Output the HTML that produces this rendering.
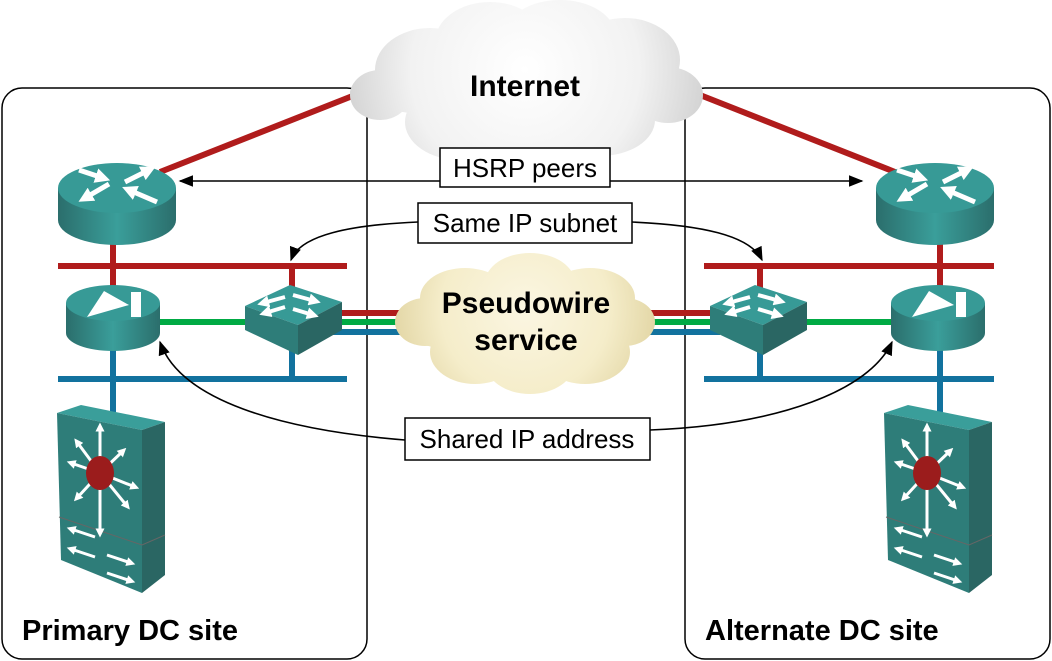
<!DOCTYPE html>
<html><head><meta charset="utf-8"><style>
html,body{margin:0;padding:0;background:#fff}
svg{display:block}
text{font-family:"Liberation Sans",Arial,sans-serif}
</style></head><body>
<svg width="1052" height="661" viewBox="0 0 1052 661" xmlns="http://www.w3.org/2000/svg">
<defs>
<linearGradient id="cyl" x1="0" x2="1" y1="0" y2="0">
<stop offset="0" stop-color="#2b6e6c"/><stop offset="0.5" stop-color="#3a9e9a"/><stop offset="1" stop-color="#2b6e6c"/>
</linearGradient>
<radialGradient id="wc" gradientUnits="userSpaceOnUse" cx="525" cy="70" r="190"><stop offset="0" stop-color="#ffffff"/><stop offset="0.6" stop-color="#f2f2f2"/><stop offset="1" stop-color="#cfcfcf"/></radialGradient>
<radialGradient id="yc" gradientUnits="userSpaceOnUse" cx="525" cy="310" r="140"><stop offset="0" stop-color="#fbf6e2"/><stop offset="0.6" stop-color="#f5edca"/><stop offset="1" stop-color="#e0d3a0"/></radialGradient>
<marker id="ah" viewBox="0 0 10 10" refX="9" refY="5" markerWidth="9" markerHeight="9" orient="auto-start-reverse"><path d="M0,1 L10,5 L0,9 z" fill="#000"/></marker>
<marker id="wa" viewBox="0 0 10 10" refX="5" refY="5" markerWidth="3" markerHeight="3" orient="auto"><path d="M0,0 L10,5 L0,10 z" fill="#fff"/></marker>
<g id="router">
<path d="M-59,0 L-59,32 A59,25 0 0 0 59,32 L59,0 Z" fill="url(#cyl)"/>
<ellipse cx="0" cy="0" rx="59" ry="25" fill="#379a96"/>
<g stroke="#fff" stroke-width="5" marker-end="url(#wa)">
<line x1="-38" y1="-18" x2="-14" y2="-10"/>
<line x1="-8" y1="-4" x2="-32" y2="10"/>
<line x1="8" y1="-6" x2="32" y2="-18"/>
<line x1="40" y1="14" x2="12" y2="2"/>
</g>
</g>
<g id="lb">
<path d="M-47,0 L-47,30 A47,18 0 0 0 47,30 L47,0 Z" fill="url(#cyl)"/>
<ellipse cx="0" cy="0" rx="47" ry="18" fill="#379a96"/>
<path d="M-26,14 L-9,-12 L16,2 Z" fill="#fff"/>
<rect x="18" y="-11" width="10" height="25" fill="#fff"/>
</g>
<g id="sw">
<path d="M0,21 L45,0 L97,17 L53,40 Z" fill="#379a96"/>
<path d="M0,21 L53,40 L53,70 L0,45 Z" fill="#2e7d79"/>
<path d="M53,40 L97,17 L97,45 L53,70 Z" fill="#2a6663"/>
<g stroke="#fff" stroke-width="4" marker-end="url(#wa)">
<line x1="40" y1="12" x2="18" y2="18"/><line x1="48" y1="10" x2="70" y2="16"/>
<line x1="40" y1="22" x2="20" y2="28"/><line x1="48" y1="24" x2="68" y2="30"/>
</g>
</g>
<g id="ch">
<path d="M0,8 L24,0 L108,17 L85,25 Z" fill="#3a9e9a"/>
<path d="M0,8 L85,25 L85,188 L4,155 Z" fill="#2e7d79"/>
<path d="M85,25 L108,17 L108,170 L85,188 Z" fill="#2a6663"/>
<path d="M2,112 L85,140 L108,130" stroke="#666" stroke-width="1" fill="none"/>
<g stroke="#fff" stroke-width="3" marker-end="url(#wa)">
<line x1="43" y1="68" x2="43" y2="22"/><line x1="43" y1="68" x2="43" y2="128"/>
<line x1="43" y1="68" x2="14" y2="58"/><line x1="43" y1="68" x2="78" y2="82"/>
<line x1="43" y1="68" x2="20" y2="37"/><line x1="43" y1="68" x2="70" y2="101"/>
<line x1="43" y1="68" x2="66" y2="46"/><line x1="43" y1="68" x2="20" y2="93"/>
<line x1="38" y1="132" x2="14" y2="124"/><line x1="38" y1="152" x2="14" y2="144"/>
<line x1="50" y1="150" x2="74" y2="158"/><line x1="50" y1="168" x2="74" y2="176"/>
</g>
<ellipse cx="43" cy="68" rx="14" ry="17" fill="#9b1c1c"/>
</g>
</defs>

<rect x="2" y="88" width="365" height="571" rx="20" fill="none" stroke="#000" stroke-width="1.5"/>
<rect x="685" y="88" width="365" height="571" rx="20" fill="none" stroke="#000" stroke-width="1.5"/>

<line x1="160" y1="172" x2="355" y2="95" stroke="#b01c1c" stroke-width="6"/>
<line x1="700" y1="95" x2="895" y2="172" stroke="#b01c1c" stroke-width="6"/>

<g stroke-width="6">
<line x1="58" y1="266" x2="347" y2="266" stroke="#b01c1c"/>
<line x1="113" y1="230" x2="113" y2="300" stroke="#b01c1c"/>
<line x1="292" y1="266" x2="292" y2="295" stroke="#b01c1c"/>
<line x1="58" y1="379" x2="347" y2="379" stroke="#12729e"/>
<line x1="113" y1="340" x2="113" y2="412" stroke="#12729e"/>
<line x1="292" y1="345" x2="292" y2="379" stroke="#12729e"/>
<line x1="155" y1="322" x2="250" y2="322" stroke="#00aa44"/>
<line x1="330" y1="313" x2="410" y2="313" stroke="#b01c1c"/>
<line x1="330" y1="322" x2="410" y2="322" stroke="#00aa44"/>
<line x1="330" y1="332" x2="410" y2="332" stroke="#12729e"/>
<line x1="704" y1="266" x2="994" y2="266" stroke="#b01c1c"/>
<line x1="940" y1="230" x2="940" y2="300" stroke="#b01c1c"/>
<line x1="760" y1="266" x2="760" y2="295" stroke="#b01c1c"/>
<line x1="704" y1="379" x2="994" y2="379" stroke="#12729e"/>
<line x1="940" y1="340" x2="940" y2="412" stroke="#12729e"/>
<line x1="760" y1="345" x2="760" y2="379" stroke="#12729e"/>
<line x1="800" y1="322" x2="900" y2="322" stroke="#00aa44"/>
<line x1="640" y1="313" x2="720" y2="313" stroke="#b01c1c"/>
<line x1="640" y1="322" x2="720" y2="322" stroke="#00aa44"/>
<line x1="640" y1="332" x2="720" y2="332" stroke="#12729e"/>
</g>

<g fill="url(#wc)">
<ellipse cx="525" cy="92" rx="175" ry="28"/>
<ellipse cx="430" cy="70" rx="55" ry="42"/><ellipse cx="490" cy="42" rx="55" ry="40"/><ellipse cx="560" cy="35" rx="55" ry="35"/>
<ellipse cx="625" cy="60" rx="55" ry="42"/><ellipse cx="668" cy="95" rx="35" ry="28"/><ellipse cx="460" cy="122" rx="55" ry="38"/>
<ellipse cx="535" cy="128" rx="55" ry="38"/><ellipse cx="600" cy="120" rx="55" ry="36"/><ellipse cx="380" cy="95" rx="30" ry="25"/>
</g>
<g fill="url(#yc)">
<ellipse cx="525" cy="325" rx="128" ry="32"/>
<ellipse cx="465" cy="298" rx="45" ry="30"/><ellipse cx="530" cy="283" rx="45" ry="30"/><ellipse cx="590" cy="298" rx="45" ry="30"/>
<ellipse cx="475" cy="352" rx="45" ry="32"/><ellipse cx="530" cy="362" rx="45" ry="32"/><ellipse cx="585" cy="352" rx="45" ry="32"/>
<ellipse cx="425" cy="322" rx="30" ry="24"/><ellipse cx="625" cy="322" rx="30" ry="24"/>
</g>
<text x="525" y="96" font-size="30" font-weight="bold" text-anchor="middle">Internet</text>
<text x="526" y="313" font-size="30" font-weight="bold" text-anchor="middle">Pseudowire</text>
<text x="526" y="350" font-size="30" font-weight="bold" text-anchor="middle">service</text>

<use href="#router" x="117" y="188"/>
<use href="#router" x="935" y="188"/>
<use href="#lb" x="113" y="303"/>
<use href="#lb" x="938" y="303"/>
<use href="#sw" x="245" y="285"/>
<use href="#sw" x="710" y="285"/>
<use href="#ch" x="57" y="405"/>
<use href="#ch" x="884" y="405"/>

<g fill="none" stroke="#000" stroke-width="1.6">
<line x1="180" y1="181" x2="862" y2="181" marker-start="url(#ah)" marker-end="url(#ah)"/>
<path d="M418,222 C350,225 300,235 291,260" marker-end="url(#ah)"/>
<path d="M632,222 C700,225 750,235 762,260" marker-end="url(#ah)"/>
<path d="M405,440 C280,430 180,400 160,342" marker-end="url(#ah)"/>
<path d="M650,430 C780,425 870,390 892,342" marker-end="url(#ah)"/>
</g>

<g font-size="26" text-anchor="middle">
<rect x="440" y="148" width="170" height="39" fill="#fff" stroke="#000" stroke-width="1.5"/>
<text x="525" y="177">HSRP peers</text>
<rect x="418" y="203" width="214" height="40" fill="#fff" stroke="#000" stroke-width="1.5"/>
<text x="525" y="232">Same IP subnet</text>
<rect x="405" y="418" width="245" height="42" fill="#fff" stroke="#000" stroke-width="1.5"/>
<text x="527" y="448">Shared IP address</text>
</g>

<text x="22" y="640" font-size="29" font-weight="bold">Primary DC site</text>
<text x="705" y="640" font-size="29" font-weight="bold">Alternate DC site</text>
</svg>
</body></html>
